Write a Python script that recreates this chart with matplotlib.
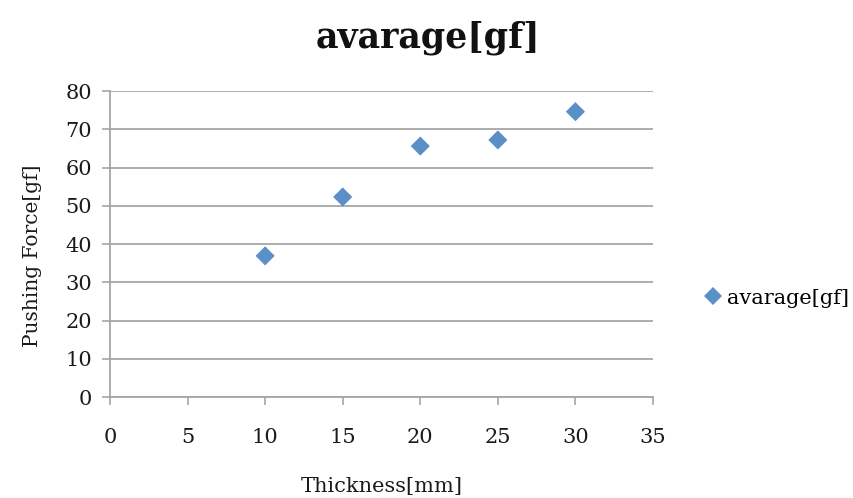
import matplotlib
matplotlib.use("Agg")
import matplotlib.pyplot as plt
from matplotlib.lines import Line2D

thickness_mm = [10, 15, 20, 25, 30]
avg_force_gf = [36.9, 52.3, 65.6, 67.2, 74.6]
x_ticks = [0, 5, 10, 15, 20, 25, 30, 35]
y_ticks = [0, 10, 20, 30, 40, 50, 60, 70, 80]

serif = ["DejaVu Serif", "Liberation Serif"]
plt.rcParams["font.family"] = serif

fig = plt.figure(figsize=(8.54, 4.98), dpi=100)
ax = fig.add_axes([110 / 854, 1 - 397 / 498, 543 / 854, 306 / 498])

grid_c = "#a6a6a6"
text_c = "#1a1a1a"
ax.set_xlim(0, 35)
ax.set_ylim(0, 80)
ax.set_xticks(x_ticks)
ax.set_yticks(y_ticks)
ax.yaxis.grid(True, color=grid_c, linewidth=1.3)
ax.set_axisbelow(True)

for side in ("top", "right"):
    ax.spines[side].set_visible(False)
for side in ("left", "bottom"):
    ax.spines[side].set_color(grid_c)
    ax.spines[side].set_linewidth(1.3)

ax.tick_params(axis="x", direction="out", length=6, width=1.2, color=grid_c,
               labelsize=15, pad=16, labelcolor=text_c)
ax.tick_params(axis="y", direction="out", length=6, width=1.2, color=grid_c,
               labelsize=15, pad=7, labelcolor=text_c)

ax.scatter(thickness_mm, avg_force_gf, marker="D", s=95, color="#5b8fc7",
           edgecolors="none", zorder=3, label="avarage[gf]")

ax.set_xlabel("Thickness[mm]", fontsize=15, labelpad=22, color=text_c)
ax.set_ylabel("Pushing Force[gf]", fontsize=14.5, labelpad=17, color=text_c,
              y=0.46)
fig.text(428 / 854, 1 - 38 / 498, "avarage[gf]", ha="center", va="center",
         fontsize=25, fontweight="bold", color="#111111")

handle = Line2D([], [], marker="D", linestyle="none", markersize=9,
                color="#5b8fc7", markeredgewidth=0)
fig.legend([handle], ["avarage[gf]"], loc="center left",
           bbox_to_anchor=(696 / 854, 1 - 298 / 498), frameon=False,
           fontsize=15, handlelength=0.8, handletextpad=0.3, borderaxespad=0)

fig.savefig("out.png", dpi=100)
